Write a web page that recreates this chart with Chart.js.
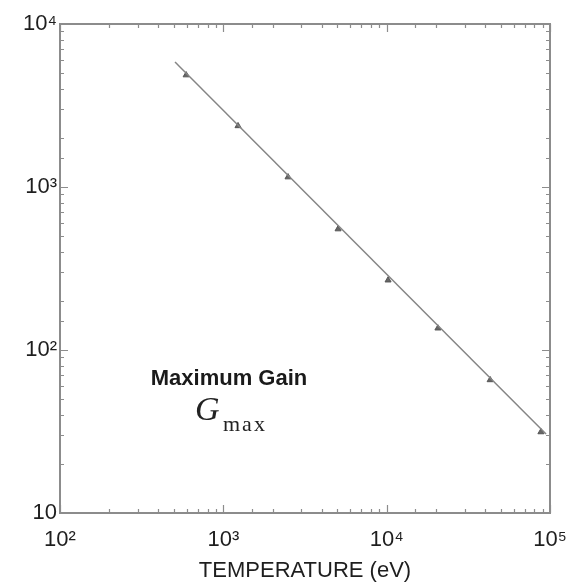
<!DOCTYPE html>
<html>
<head>
<meta charset="utf-8">
<script src="https://cdn.jsdelivr.net/npm/chart.js@4/dist/chart.umd.min.js"></script>
<style>
html,body{margin:0;padding:0;background:#fff;}
#wrap{width:572px;height:582px;position:relative;}
</style>
</head>
<body>
<div id="wrap"><canvas id="c" width="572" height="582"></canvas></div>
<script>
// Data
const lineT = [506, 94600];
const lineG = [5850, 30.5];
const markT = [592, 1230, 2490, 5040, 10200, 20600, 43000, 88000];
const markG = [4860, 2370, 1150, 552, 268, 136, 65.5, 31.4];
const xTickValues = [100, 1000, 10000, 100000];
const xTickLabels = ['10²', '10³', '10⁴', '10⁵'];
const yTickValues = [10, 100, 1000, 10000];
const yTickLabels = ['10', '10²', '10³', '10⁴'];
const xTitle = 'TEMPERATURE (eV)';
const noteTitle = 'Maximum Gain';

const FONT = "'Liberation Sans', Arial, sans-serif";
const frameColor = '#8c8c8c';

function labelFor(values, labels, v) {
  for (let i = 0; i < values.length; i++) {
    if (Math.abs(v - values[i]) / values[i] < 1e-6) return labels[i];
  }
  return '';
}

const framePlugin = {
  id: 'frame',
  afterDatasetsDraw(chart) {
    const {ctx, chartArea: a, scales: {x, y}} = chart;
    ctx.save();
    ctx.strokeStyle = frameColor;
    ctx.lineWidth = 2;
    ctx.strokeRect(a.left, a.top, a.right - a.left, a.bottom - a.top);
    ctx.lineWidth = 1.2;
    ctx.beginPath();
    x.ticks.forEach(t => {
      const px = Math.round(x.getPixelForValue(t.value)) + 0.5;
      const major = labelFor(xTickValues, xTickLabels, t.value) !== '';
      const len = major ? 8 : 4;
      ctx.moveTo(px, a.bottom); ctx.lineTo(px, a.bottom - len);
      ctx.moveTo(px, a.top); ctx.lineTo(px, a.top + len);
    });
    y.ticks.forEach(t => {
      const py = Math.round(y.getPixelForValue(t.value)) + 0.5;
      const major = labelFor(yTickValues, yTickLabels, t.value) !== '';
      const len = major ? 8 : 4;
      ctx.moveTo(a.left, py); ctx.lineTo(a.left + len, py);
      ctx.moveTo(a.right, py); ctx.lineTo(a.right - len, py);
    });
    ctx.stroke();
    ctx.restore();
  },
  afterDraw(chart) {
    const {ctx} = chart;
    ctx.save();
    ctx.fillStyle = '#1a1a1a';
    ctx.textAlign = 'center';
    ctx.textBaseline = 'alphabetic';
    ctx.font = "bold 22px " + FONT;
    ctx.fillText(noteTitle, 229, 385);
    ctx.fillStyle = '#222';
    ctx.textAlign = 'left';
    ctx.font = "italic 34px 'Liberation Serif', 'DejaVu Serif', serif";
    ctx.fillText('G', 195, 420);
    ctx.font = "22px 'Liberation Serif', 'DejaVu Serif', serif";
    ctx.letterSpacing = '2px';
    ctx.fillText('max', 223, 431);
    ctx.restore();
  }
};

new Chart(document.getElementById('c'), {
  type: 'scatter',
  data: {
    datasets: [
      {
        data: lineT.map((t, i) => ({x: t, y: lineG[i]})),
        showLine: true,
        borderColor: '#858585',
        borderWidth: 1.5,
        pointRadius: 0,
        fill: false
      },
      {
        data: markT.map((t, i) => ({x: t, y: markG[i]})),
        showLine: false,
        pointStyle: 'triangle',
        pointRadius: 3.5,
        backgroundColor: '#666',
        borderColor: '#555',
        borderWidth: 1
      }
    ]
  },
  options: {
    responsive: false,
    animation: false,
    devicePixelRatio: 1,
    layout: {padding: {left: 0, right: 22, top: 24, bottom: 0}},
    plugins: {legend: {display: false}, tooltip: {enabled: false}},
    scales: {
      x: {
        type: 'logarithmic',
        min: 100, max: 100000,
        border: {display: false},
        grid: {display: false, drawTicks: false},
        afterFit(s) { s.height = 69; s.paddingRight = 0; s.paddingLeft = 0; },
        ticks: {
          autoSkip: false, maxRotation: 0, padding: 14,
          color: '#1e1e1e',
          font: {family: FONT, size: 22},
          callback(v) { return labelFor(xTickValues, xTickLabels, v); }
        },
        title: {
          display: true, text: xTitle, color: '#1e1e1e',
          font: {family: FONT, size: 22, lineHeight: 1},
          padding: {top: 0, bottom: 0}
        }
      },
      y: {
        type: 'logarithmic',
        min: 10, max: 10000,
        border: {display: false},
        grid: {display: false, drawTicks: false},
        afterFit(s) { s.width = 60; },
        ticks: {
          autoSkip: false, padding: 3,
          color: '#1e1e1e',
          font: {family: FONT, size: 22},
          callback(v) { return labelFor(yTickValues, yTickLabels, v); }
        }
      }
    }
  },
  plugins: [framePlugin]
});
</script>
</body>
</html>
